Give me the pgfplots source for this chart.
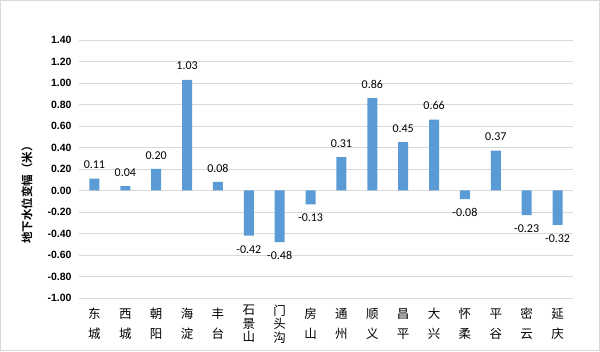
\documentclass[border=0pt]{standalone}
\usepackage{pgfplots}
\pgfplotsset{compat=1.18}
\usepackage{fontspec}
\setmainfont{Liberation Sans}
\newfontfamily\cjk{Noto Sans CJK SC}[BoldFont={Noto Sans CJK SC Bold}]
\newfontfamily\calibri{Carlito}
\definecolor{barblue}{HTML}{5B9BD5}
\definecolor{gridgray}{HTML}{D9D9D9}
\begin{document}
\begin{tikzpicture}
\useasboundingbox (0pt,0pt) rectangle (600pt,351pt);
\draw[color=gridgray, line width=0.8pt] (0.4pt,0.4pt) rectangle (599.6pt,350.6pt);
\begin{axis}[
  at={(79pt,53pt)}, anchor=south west,
  scale only axis, width=494pt, height=258pt,
  ymin=-1, ymax=1.4,
  ytick={-1,-0.8,-0.6,-0.4,-0.2,0,0.2,0.4,0.6,0.8,1,1.2,1.4},
  xmin=-0.5, xmax=15.5, xtick={0,...,15},
  xticklabels={{东\\[5pt]城},{西\\[5pt]城},{朝\\[5pt]阳},{海\\[5pt]淀},{丰\\[5pt]台},{石\\[-1.5pt]景\\[-1.5pt]山},{门\\[-1.5pt]头\\[-1.5pt]沟},{房\\[5pt]山},{通\\[5pt]州},{顺\\[5pt]义},{昌\\[5pt]平},{大\\[5pt]兴},{怀\\[5pt]柔},{平\\[5pt]谷},{密\\[5pt]云},{延\\[5pt]庆}},
  xticklabel style={font=\cjk\fontsize{12.5}{15}\selectfont, align=center, anchor=center, yshift=-26pt},
  yticklabel style={font=\bfseries\fontsize{10.5}{12}\selectfont, xshift=-4pt},
  /pgf/number format/.cd, fixed, fixed zerofill, precision=2, assume math mode=true, /pgfplots/.cd,
  axis line style={draw=none}, major tick length=0pt,
  ymajorgrids, grid style={color=gridgray, line width=0.8pt},
  ylabel={地下水位变幅（米）},
  ylabel style={font=\cjk\bfseries\fontsize{11.5}{14}\selectfont, at={(axis description cs:0,0.41)}, anchor=center, yshift=52pt},
  ybar, bar width=10pt,
  nodes near coords, nodes near coords align={vertical},
  every node near coord/.append style={font=\calibri\fontsize{12}{14}\selectfont, inner ysep=9.5pt, black},
]
\addplot[fill=barblue, draw=none] coordinates {
(0,0.11) (1,0.04) (2,0.20) (3,1.03) (4,0.08) (5,-0.42) (6,-0.48) (7,-0.13)
(8,0.31) (9,0.86) (10,0.45) (11,0.66) (12,-0.08) (13,0.37) (14,-0.23) (15,-0.32)};
\end{axis}
\end{tikzpicture}
\end{document}
